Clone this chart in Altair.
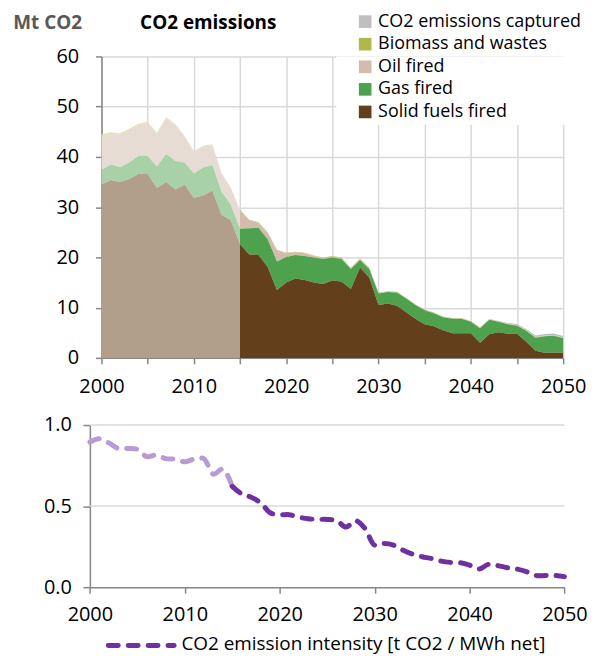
import altair as alt
import pandas as pd

# ---------------- data ----------------
years = list(range(2000, 2051))

series_names = ["CO2 emissions captured", "Biomass and wastes", "Oil fired",
                "Gas fired", "Solid fuels fired"]

solid = [34.5, 35.4, 35.0, 35.6, 36.6, 36.6, 33.8, 35.0, 33.5, 34.5, 31.8, 32.3, 33.3, 28.5, 27.4, 22.6,
         20.6, 20.5, 18.1, 13.5, 15.0, 15.8, 15.5, 15.0, 14.7, 15.4,
         15.2, 13.7, 18.0, 16.0, 10.5, 10.8, 10.4, 9.1, 7.8, 6.7,
         6.3, 5.5, 4.9, 4.9, 4.9, 3.0, 4.7, 5.1, 4.8, 4.8,
         3.2, 1.4, 1.0, 1.0, 1.0]
gas = [2.9, 3.1, 3.0, 3.3, 3.6, 3.6, 4.3, 5.6, 5.7, 4.4, 4.9, 5.6, 5.1, 4.6, 3.1, 3.1,
       5.2, 5.4, 5.5, 5.7, 5.1, 4.7, 4.8, 5.0, 5.0, 4.6,
       4.5, 4.0, 1.5, 1.7, 2.3, 2.3, 2.6, 2.7, 2.7, 2.8,
       2.6, 2.6, 2.9, 2.9, 2.3, 2.9, 2.9, 2.1, 1.9, 1.6,
       2.2, 2.6, 3.3, 3.4, 2.9]
oil = [6.8, 6.1, 6.4, 6.4, 6.1, 6.5, 6.5, 7.1, 7.1, 5.1, 4.3, 4.1, 3.9, 3.6, 3.3, 3.7,
       1.6, 1.0, 1.3, 2.2, 0.7, 0.5, 0.5, 0.3, 0.2, 0.2,
       0.2, 0.2, 0.2, 0.2, 0.1, 0.1, 0.1, 0.1, 0.1, 0.1,
       0.1, 0.1, 0.1, 0.1, 0.1, 0.1, 0.1, 0.1, 0.1, 0.1,
       0.1, 0.1, 0.1, 0.1, 0.1]
biomass = [0.3, 0.3, 0.3, 0.3, 0.3, 0.3, 0.2, 0.2, 0.2, 0.2, 0.2, 0.2, 0.2, 0.1, 0.1, 0.1,
           0.1, 0.1, 0.1, 0.1, 0.1, 0.1, 0.1, 0.1, 0.1, 0.1,
           0.1, 0.1, 0.1, 0.1, 0.1, 0.05, 0.05, 0.05, 0.05, 0.05,
           0.05, 0.05, 0.05, 0.05, 0.05, 0.05, 0.05, 0.05, 0.05, 0.05,
           0.05, 0.05, 0.05, 0.05, 0.05]
captured = [0.0] * 44 + [0.1, 0.2, 0.2, 0.3, 0.3, 0.3, 0.3]

intensity = [0.895, 0.915, 0.89, 0.855, 0.855, 0.85, 0.805, 0.815, 0.793, 0.79,
             0.773, 0.79, 0.793, 0.697, 0.728, 0.622, 0.575, 0.555, 0.52, 0.459,
             0.447, 0.447, 0.432, 0.422, 0.418, 0.418, 0.41, 0.371, 0.41, 0.361,
             0.259, 0.269, 0.259, 0.228, 0.204, 0.188, 0.177, 0.161, 0.153, 0.151,
             0.136, 0.112, 0.141, 0.133, 0.12, 0.112, 0.096, 0.072, 0.072, 0.072,
             0.065]

top_y_ticks = [0, 10, 20, 30, 40, 50, 60]
top_x_ticks = list(range(2000, 2051, 5))
bot_x_ticks = list(range(2000, 2051, 10))
bot_y_ticks = [0.0, 0.5, 1.0]

UNIT_LABEL = "Mt CO2"
TOP_TITLE = "CO2 emissions"
LINE_LABEL = "CO2 emission intensity [t CO2 / MWh net]"
LAST_HISTORIC_YEAR = 2015

# ---------------- styles ----------------
FONT = "Open Sans"
colors_proj = ["#bfbfbf", "#afb84a", "#d3bcab", "#4ea24e", "#643f1c"]
colors_hist = ["#e0e0e0", "#dfe3ad", "#e6dcd3", "#a8d1a7", "#b19f8c"]
stack_order = [4, 3, 2, 1, 0]
GRID = "#d9d9d9"

rows = []
for name, vals, o in zip(series_names, [captured, biomass, oil, gas, solid], stack_order):
    for yr, v in zip(years, vals):
        rows.append({"year": yr, "source": name, "value": v, "ord": o})
df = pd.DataFrame(rows)

idf = pd.DataFrame({"year": years, "intensity": intensity})

# ---------------- top chart ----------------
x_top = alt.X("year:Q",
              scale=alt.Scale(domain=[2000, 2050], nice=False, zero=False),
              axis=alt.Axis(values=top_x_ticks,
                            labelExpr="datum.value % 10 === 0 ? datum.label : ''",
                            format="d", title=None, grid=True, labelPadding=12.5,
                            tickSize=6, labelOverlap=False, labelFlush=False))
y_top = alt.Y("value:Q", stack="zero",
              scale=alt.Scale(domain=[0, 60], nice=False),
              axis=alt.Axis(values=top_y_ticks, title=None, grid=True,
                            labelPadding=17, tickSize=6, labelOverlap=False))

cover = alt.Chart(pd.DataFrame({"k": [0]})).mark_rect(color="white").encode(
    x=alt.value(236), x2=alt.value(467), y=alt.value(0), y2=alt.value(69))

hist = alt.Chart(df).transform_filter(f"datum.year <= {LAST_HISTORIC_YEAR}").mark_area().encode(
    x=x_top, y=y_top,
    color=alt.Color("source:N", scale=alt.Scale(domain=series_names, range=colors_hist), legend=None),
    order=alt.Order("ord:Q"))

proj = alt.Chart(df).transform_filter(f"datum.year >= {LAST_HISTORIC_YEAR}").mark_area().encode(
    x=x_top, y=y_top,
    color=alt.Color("source:N", scale=alt.Scale(domain=series_names, range=colors_proj),
                    legend=alt.Legend(title=None, orient="none", legendX=256, legendY=-44,
                                      symbolType="square", symbolSize=161, symbolStrokeWidth=0,
                                      labelFontSize=18, rowPadding=4.7, padding=0,
                                      labelOffset=4, labelLimit=400)),
    order=alt.Order("ord:Q"))

unit = alt.Chart(pd.DataFrame({"t": [UNIT_LABEL]})).mark_text(
    align="left", baseline="middle", fontSize=19, fontWeight="bold", color="#595959", font=FONT
).encode(text="t:N", x=alt.value(-88.7), y=alt.value(-34))

ttl = alt.Chart(pd.DataFrame({"t": [TOP_TITLE]})).mark_text(
    align="center", baseline="middle", fontSize=19, fontWeight="bold", color="black", font=FONT
).encode(text="t:N", x=alt.value(107.3), y=alt.value(-34))

top = alt.layer(cover, hist, proj, unit, ttl).resolve_scale(color="independent").properties(
    width=464, height=303)

# ---------------- bottom chart ----------------
bx_scale = alt.Scale(domain=[2000, 2050], nice=False, zero=False, range=[-11.7, 465.3])
x_bot = alt.X("year:Q", scale=bx_scale,
              axis=alt.Axis(values=bot_x_ticks, format="d", grid=False,
                            title=None, labelPadding=11.5, tickSize=6, labelFlush=False,
                            labelOverlap=False))
y_bot = alt.Y("intensity:Q",
              scale=alt.Scale(domain=[0, 1], nice=False),
              axis=alt.Axis(values=bot_y_ticks, format=".1f", title=None, grid=False,
                            labelPadding=11.6, tickSize=7, labelOverlap=False, offset=11.7))

gdf = pd.DataFrame({"g": bot_y_ticks[1:], "x0": 2000, "x1": 2050})
grid_b = alt.Chart(gdf).mark_rule(color=GRID, strokeWidth=1.5).encode(
    x=alt.X("x0:Q", scale=bx_scale), x2="x1:Q", y=alt.Y("g:Q"))

lh = alt.Chart(idf).transform_filter(f"datum.year <= {LAST_HISTORIC_YEAR}").mark_line(
    strokeWidth=5, strokeDash=[10, 10], strokeCap="round", interpolate="catmull-rom",
    color="#b99bd3").encode(x=x_bot, y=y_bot)

lp = alt.Chart(idf).transform_filter(f"datum.year >= {LAST_HISTORIC_YEAR}").mark_line(
    strokeWidth=5, strokeDash=[10, 10], strokeCap="round", interpolate="catmull-rom",
    color="#7030a0").encode(x=x_bot, y=y_bot)

leg_line = alt.Chart(pd.DataFrame({"k": [0]})).mark_rule(
    color="#7030a0", strokeWidth=5, strokeDash=[10, 10], strokeCap="round"
).encode(x=alt.value(6.8), x2=alt.value(73), y=alt.value(221.5))

leg_text = alt.Chart(pd.DataFrame({"t": [LINE_LABEL]})).mark_text(
    align="left", baseline="middle", fontSize=19, color="black", font=FONT
).encode(text="t:N", x=alt.value(80.3), y=alt.value(220))

bottom = alt.layer(grid_b, lh, lp, leg_line, leg_text).properties(width=465, height=163)

chart = alt.vconcat(top, bottom, spacing=18.5).properties(
    padding={"left": 5, "top": 3, "right": 3, "bottom": 4}
).configure_view(stroke=None).configure_axis(
    domainColor="#868686", domainWidth=1.5, tickColor="#868686", tickWidth=1.5,
    gridColor=GRID, gridWidth=1.5, labelFont=FONT, labelFontSize=20, labelColor="black"
).configure_legend(labelFont=FONT, labelColor="black")

chart.save("out.html", embed_options={"renderer": "svg", "actions": False})
